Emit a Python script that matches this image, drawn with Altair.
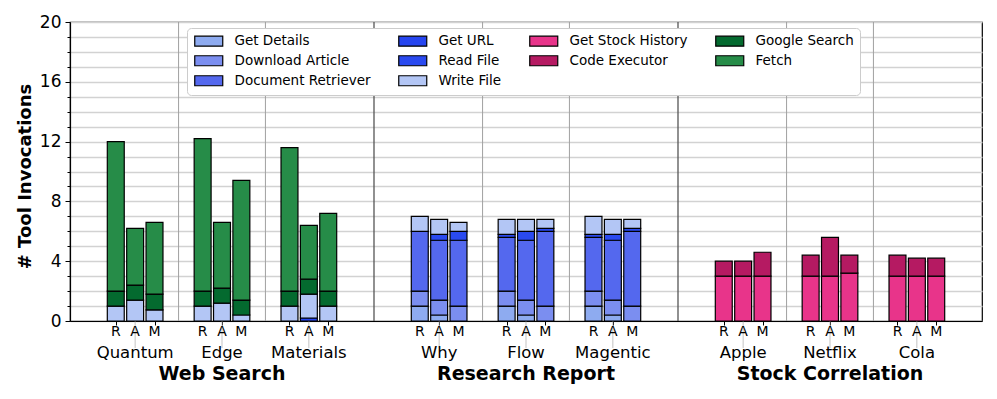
import altair as alt
import pandas as pd

# ---------------- data ----------------
groups = ["Web Search", "Research Report", "Stock Correlation"]
subgroups = [["Quantum", "Edge", "Materials"],
             ["Why", "Flow", "Magentic"],
             ["Apple", "Netflix", "Cola"]]
methods = ["R", "A", "M"]

# stacking order (bottom -> top)
tools = ["Get Details", "Download Article", "Document Retriever", "Get URL",
         "Read File", "Write File", "Get Stock History", "Code Executor",
         "Google Search", "Fetch"]
tool_colors = ["#8eabf0", "#7b8ef0", "#5468ee", "#2645f0", "#2a4af0",
               "#b3c6f5", "#e8348a", "#b51a62", "#046a2f", "#268c48"]
# legend order (row-major, 4 columns)
legend_order = ["Get Details", "Get URL", "Get Stock History", "Google Search",
                "Download Article", "Read File", "Code Executor", "Fetch",
                "Document Retriever", "Write File"]

# values per bar: Quantum R,A,M | Edge | Materials | Why | Flow | Magentic | Apple | Netflix | Cola
get_details = [0, 0, 0, 0, 0, 0, 0, 0, 0,
               1, 0.4, 0, 1, 0.4, 0, 1, 0.4, 0,
               0, 0, 0, 0, 0, 0, 0, 0, 0]
download_article = [0, 0, 0, 0, 0, 0, 0, 0, 0,
                    1, 1, 1, 1, 1, 1, 1, 1, 1,
                    0, 0, 0, 0, 0, 0, 0, 0, 0]
document_retriever = [0, 0, 0, 0, 0, 0, 0, 0, 0,
                      4, 4, 4.4, 3.6, 4, 5, 3.6, 4, 5,
                      0, 0, 0, 0, 0, 0, 0, 0, 0]
get_url = [0, 0, 0, 0, 0, 0, 0, 0.2, 0,
           0, 0, 0, 0, 0, 0, 0, 0, 0,
           0, 0, 0, 0, 0, 0, 0, 0, 0]
read_file = [0, 0, 0, 0, 0, 0, 0, 0, 0,
             0, 0.4, 0.6, 0.2, 0.6, 0.2, 0.2, 0.4, 0.2,
             0, 0, 0, 0, 0, 0, 0, 0, 0]
write_file = [1, 1.4, 0.75, 1, 1.2, 0.4, 1, 1.6, 1,
              1, 1, 0.6, 1, 0.8, 0.6, 1.2, 1, 0.6,
              0, 0, 0, 0, 0, 0, 0, 0, 0]
get_stock_history = [0, 0, 0, 0, 0, 0, 0, 0, 0,
                     0, 0, 0, 0, 0, 0, 0, 0, 0,
                     3, 3, 3, 3, 3, 3.2, 3, 3, 3]
code_executor = [0, 0, 0, 0, 0, 0, 0, 0, 0,
                 0, 0, 0, 0, 0, 0, 0, 0, 0,
                 1, 1, 1.6, 1.4, 2.6, 1.2, 1.4, 1.2, 1.2]
google_search = [1, 1, 1.05, 1, 1, 1, 1, 1, 1,
                 0, 0, 0, 0, 0, 0, 0, 0, 0,
                 0, 0, 0, 0, 0, 0, 0, 0, 0]
fetch = [10, 3.8, 4.8, 10.2, 4.4, 8.0, 9.6, 3.6, 5.2,
         0, 0, 0, 0, 0, 0, 0, 0, 0,
         0, 0, 0, 0, 0, 0, 0, 0, 0]

series = [get_details, download_article, document_retriever, get_url, read_file,
          write_file, get_stock_history, code_executor, google_search, fetch]

# ---------------- layout helpers ----------------
W, H = 912, 299
GROUP_GAP = 0.5      # extra space between main groups (in subgroup units)
OFFSET = 0.223       # distance between R/A/M bars
BAR_W = 0.195        # bar width

bar_rows, method_rows, sub_rows, group_rows, sep_rows = [], [], [], [], []
sub_centers_all = []
for gi, g in enumerate(groups):
    centers = []
    for si, s in enumerate(subgroups[gi]):
        c = gi * 3 + si + gi * GROUP_GAP
        centers.append(c)
        sub_centers_all.append(c)
        sub_rows.append(dict(x=c, label=s))
        for mi, m in enumerate(methods):
            k = (gi * 3 + si) * 3 + mi
            bc = c + (mi - 1) * OFFSET
            method_rows.append(dict(x=bc, label=m))
            base = 0.0
            for ti, (t, vals) in enumerate(zip(tools, series)):
                v = vals[k]
                if v > 0:
                    bar_rows.append(dict(tool=t, x0=bc - BAR_W / 2, x1=bc + BAR_W / 2,
                                         y0=base, y1=base + v, order=ti, value=v))
                base += v
    group_rows.append(dict(x=sum(centers) / len(centers), label=g))
    for a, b in zip(centers[:-1], centers[1:]):
        sep_rows.append(dict(x=(a + b) / 2, kind="minor"))
for i in range(len(groups) - 1):
    a = sub_centers_all[i * 3 + 2]
    b = sub_centers_all[(i + 1) * 3]
    sep_rows.append(dict(x=(a + b) / 2, kind="major"))

bars_df = pd.DataFrame(bar_rows)
method_df = pd.DataFrame(method_rows)
sub_df = pd.DataFrame(sub_rows)
group_df = pd.DataFrame(group_rows)
sep_df = pd.DataFrame(sep_rows)

xdomain = [sub_centers_all[0] - 0.75, sub_centers_all[-1] + 0.75]
xscale = alt.Scale(domain=xdomain, nice=False, zero=False)
FONT = "DejaVu Sans"

bars = alt.Chart(bars_df).mark_bar(stroke="black", strokeWidth=1.2, opacity=1).encode(
    x=alt.X("x0:Q", scale=xscale,
            axis=alt.Axis(values=list(method_df["x"]), labels=False, tickSize=4,
                          tickColor="black", domainColor="black", domainWidth=1.2,
                          grid=False, title=None)),
    x2="x1:Q",
    y=alt.Y("y0:Q", scale=alt.Scale(domain=[0, 20], nice=False),
            axis=alt.Axis(values=list(range(0, 21)),
                          labelExpr="datum.value % 4 === 0 ? datum.label : ''",
                          tickSize={"condition": {"test": "datum.value % 4 === 0", "value": 5}, "value": 3},
                          tickColor="black", domainColor="black", domainWidth=1.2,
                          labelFontSize=17, labelColor="black", labelPadding=4,
                          grid=True, gridColor="#d2d2d2", gridWidth=1.3,
                          title="# Tool Invocations", titleFontSize=18,
                          titleFontWeight="bold", titleColor="black",
                          titleAngle=270, titleBaseline="middle", titleAlign="center",
                          titleX=-45, titleY=154)),
    y2="y1:Q",
    color=alt.Color("tool:N",
                    scale=alt.Scale(domain=legend_order,
                                    range=[tool_colors[tools.index(t)] for t in legend_order]),
                    legend=alt.Legend(title=None, orient="none", legendX=117, legendY=6,
                                      direction="horizontal",
                                      columns=4, columnPadding=25, rowPadding=4,
                                      symbolType="M-1,-1L4.6,-1L4.6,1L-1,1Z",
                                      symbolSize=100, symbolStrokeColor="black",
                                      symbolStrokeWidth=1.2, symbolOpacity=1,
                                      labelFontSize=13.5, labelColor="black", labelOffset=28,
                                      padding=6, fillColor="white", strokeColor="#cccccc",
                                      cornerRadius=4)),
    order=alt.Order("order:Q"),
)

seps_minor = alt.Chart(sep_df[sep_df.kind == "minor"]).mark_rule(
    color="#a0a0a0", strokeWidth=1).encode(
    x=alt.X("x:Q", scale=xscale), y=alt.value(0), y2=alt.value(H))
seps_major = alt.Chart(sep_df[sep_df.kind == "major"]).mark_rule(
    color="#555555", strokeWidth=1.3).encode(
    x=alt.X("x:Q", scale=xscale), y=alt.value(0), y2=alt.value(H))
sub_ticks = alt.Chart(sub_df).mark_rule(color="#b4b4b4", strokeWidth=0.8).encode(
    x=alt.X("x:Q", scale=xscale), y=alt.value(H), y2=alt.value(H + 27))

method_text = alt.Chart(method_df).mark_text(
    font=FONT, fontSize=14, baseline="alphabetic", color="black").encode(
    x=alt.X("x:Q", scale=xscale), y=alt.value(H + 15), text="label:N")
sub_text = alt.Chart(sub_df).mark_text(
    font=FONT, fontSize=16.5, baseline="alphabetic", color="black").encode(
    x=alt.X("x:Q", scale=xscale), y=alt.value(H + 37), text="label:N")
group_text = alt.Chart(group_df).mark_text(
    font=FONT, fontSize=19, fontWeight="bold", baseline="alphabetic", color="black").encode(
    x=alt.X("x:Q", scale=xscale), y=alt.value(H + 59), text="label:N")

chart = alt.layer(seps_minor, seps_major, sub_ticks, bars, method_text, sub_text, group_text).properties(
    width=W, height=H,
    autosize=alt.AutoSizeParams(type="none"),
    padding={"left": 62, "top": 14, "right": 7, "bottom": 68},
).configure(font=FONT).configure_view(stroke="black", strokeWidth=1.2)

chart.save("out.html", embed_options={"renderer": "svg", "actions": False})
